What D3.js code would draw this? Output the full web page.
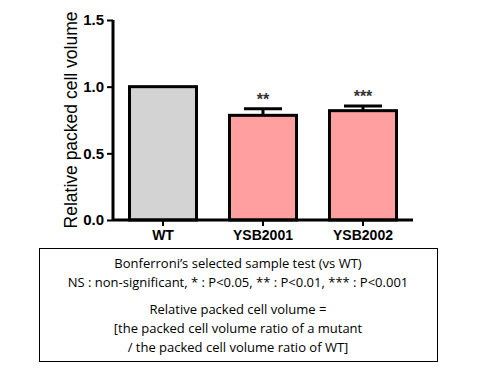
<!DOCTYPE html>
<html lang="en">
<head>
<meta charset="UTF-8">
<title>Relative packed cell volume</title>
<script src="https://cdnjs.cloudflare.com/ajax/libs/d3/7.8.5/d3.min.js"></script>
<style>
    body { margin: 0; background: #fff; }
    svg { display: block; }
</style>
</head>
<body>
<svg width="480" height="370"></svg>
<script>
    const strains = ["WT", "YSB2001", "YSB2002"];
    const values = [1.0, 0.785, 0.82];
    const errors = [0, 0.05, 0.035];
    const stars = ["", "**", "***"];
    const barColors = ["#d3d3d3", "#ff9f9f", "#ff9f9f"];
    const yTicks = [0.0, 0.5, 1.0, 1.5];
    const noteLines = [
        "Bonferroni\u2019s selected sample test (vs WT)",
        "NS : non-significant, * : P<0.05, ** : P<0.01, *** : P<0.001",
        "Relative packed cell volume =",
        "[the packed cell volume ratio of a mutant",
        "/ the packed cell volume ratio of WT]"
    ];

    const svg = d3.select("svg");
    const x0 = 113, x1 = 413, yTop = 20, yBot = 220;

    const x = d3.scaleBand().domain(strains).range([x0, x1]).paddingInner(0.33).paddingOuter(0.165);
    const y = d3.scaleLinear().domain([0, 1.5]).range([yBot, yTop]);

    // bars
    svg.append("g").selectAll("rect")
        .data(strains)
        .enter().append("rect")
        .attr("x", d => x(d))
        .attr("y", (d, i) => y(values[i]))
        .attr("width", x.bandwidth())
        .attr("height", (d, i) => yBot - y(values[i]))
        .attr("fill", (d, i) => barColors[i])
        .attr("stroke", "#000")
        .attr("stroke-width", 3);

    // error bars (upper only) + significance stars
    const eb = svg.append("g");
    strains.forEach((d, i) => {
        if (!errors[i]) return;
        const cx = x(d) + x.bandwidth() / 2;
        eb.append("line").attr("x1", cx).attr("x2", cx)
            .attr("y1", y(values[i])).attr("y2", y(values[i] + errors[i]))
            .attr("stroke", "#000").attr("stroke-width", 3);
        eb.append("line").attr("x1", cx - 19).attr("x2", cx + 19)
            .attr("y1", y(values[i] + errors[i])).attr("y2", y(values[i] + errors[i]))
            .attr("stroke", "#000").attr("stroke-width", 3);
        eb.append("text").attr("x", cx).attr("y", y(values[i] + errors[i]) - 4)
            .attr("text-anchor", "middle")
            .attr("font-family", "Liberation Sans, Arial, sans-serif")
            .attr("font-size", 16).attr("font-weight", "bold")
            .attr("fill", "#333")
            .text(stars[i]);
    });

    // y axis
    const yAxis = svg.append("g")
        .attr("transform", `translate(${x0},0)`)
        .call(d3.axisLeft(y).tickValues(yTicks).tickFormat(d3.format(".1f")).tickSize(6).tickPadding(3));
    yAxis.select(".domain").attr("stroke-width", 3).attr("d", `M0,${yTop}V${yBot}`);
    yAxis.selectAll(".tick line").attr("stroke-width", 2);
    yAxis.selectAll("text")
        .attr("font-family", "Liberation Sans, Arial, sans-serif")
        .attr("font-size", 15).attr("font-weight", "bold").attr("fill", "#000");

    // x axis
    const xAxis = svg.append("g")
        .attr("transform", `translate(0,${yBot})`)
        .call(d3.axisBottom(x).tickSize(6).tickPadding(4));
    xAxis.select(".domain").attr("stroke-width", 3).attr("d", `M${x0},0H${x1}`);
    xAxis.selectAll(".tick line").attr("stroke-width", 2);
    xAxis.selectAll("text")
        .attr("font-family", "Liberation Sans, Arial, sans-serif")
        .attr("font-size", 14).attr("font-weight", "bold").attr("fill", "#000");

    // y label
    svg.append("text")
        .attr("transform", `translate(77,${(yTop + yBot) / 2}) rotate(-90)`)
        .attr("text-anchor", "middle")
        .attr("font-family", "Liberation Sans, Arial, sans-serif")
        .attr("font-size", 17.5)
        .text("Relative packed cell volume");

    // note box
    svg.append("rect")
        .attr("x", 39.5).attr("y", 248.5).attr("width", 398).attr("height", 113)
        .attr("fill", "none").attr("stroke", "#000").attr("stroke-width", 1);

    const lineY = [268, 287, 314, 333, 352];
    svg.append("g").selectAll("text")
        .data(noteLines)
        .enter().append("text")
        .attr("x", 238)
        .attr("y", (d, i) => lineY[i])
        .attr("text-anchor", "middle")
        .attr("font-family", "Open Sans, Noto Sans, sans-serif")
        .attr("font-size", 13)
        .attr("fill", "#000")
        .text(d => d);
</script>
</body>
</html>
